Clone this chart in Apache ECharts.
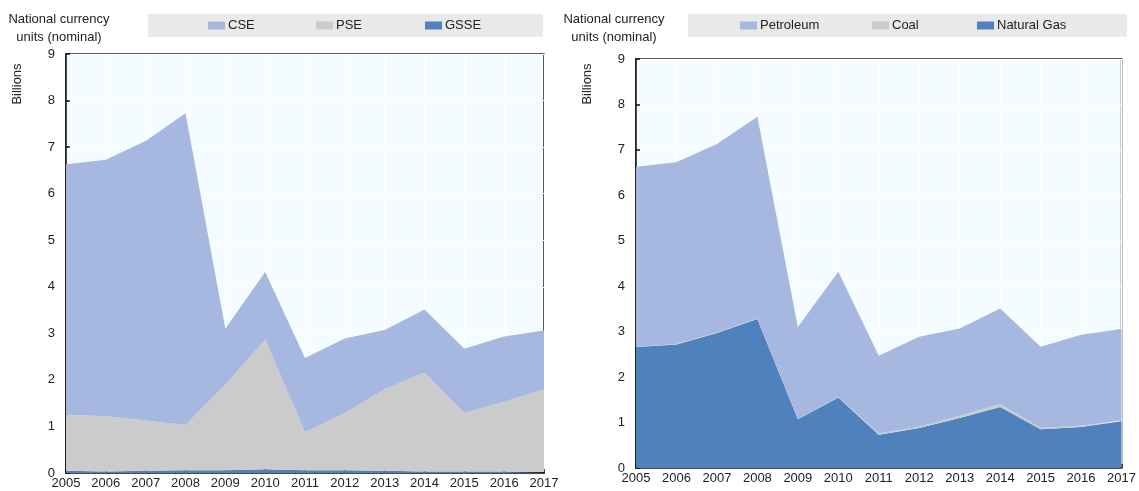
<!DOCTYPE html>
<html>
<head>
<meta charset="utf-8">
<script src="https://cdn.jsdelivr.net/npm/echarts@6/dist/echarts.min.js"></script>
<style>
  html, body { margin: 0; padding: 0; background: #ffffff; }
  #chart { width: 1139px; height: 491px; }
</style>
</head>
<body>
<div id="chart"></div>
<script>
// Years on the horizontal axes
const years = ['2005','2006','2007','2008','2009','2010','2011','2012','2013','2014','2015','2016','2017'];

// Left panel: support by category (billions)
const gsse = [0.05, 0.03, 0.05, 0.06, 0.06, 0.08, 0.06, 0.06, 0.05, 0.03, 0.03, 0.03, 0.02];
const pse  = [1.20, 1.19, 1.08, 0.97, 1.84, 2.79, 0.82, 1.23, 1.75, 2.13, 1.26, 1.50, 1.78];
const cse  = [5.38, 5.51, 6.00, 6.70, 1.20, 1.45, 1.59, 1.60, 1.27, 1.35, 1.38, 1.40, 1.26];

// Right panel: support by fuel (billions)
const naturalGas = [2.66, 2.72, 2.97, 3.28, 1.07, 1.55, 0.73, 0.88, 1.10, 1.34, 0.85, 0.90, 1.03];
const coal       = [0.01, 0.01, 0.01, 0.01, 0.01, 0.01, 0.03, 0.03, 0.05, 0.07, 0.03, 0.03, 0.02];
const petroleum  = [3.96, 4.00, 4.15, 4.44, 2.02, 2.76, 1.71, 1.98, 1.92, 2.10, 1.79, 2.00, 2.01];

// Y tick labels
const yTicks = ['0','1','2','3','4','5','6','7','8','9'];

const FONT = '"Liberation Sans", Arial, sans-serif';
const C_LIGHT = '#a6b7e0';
const C_GREY = '#cbcbcb';
const C_DARK = '#4f81bd';

const chart = echarts.init(document.getElementById('chart'), null, { renderer: 'canvas' });

function xAxisFor(gridIndex) {
  return {
    type: 'category', gridIndex: gridIndex, data: years, boundaryGap: false,
    axisLine: { show: true, lineStyle: { color: '#111', width: 1.5 } },
    axisTick: { show: true, inside: true, length: 4, lineStyle: { color: '#111', width: 1.5 } },
    axisLabel: { color: '#222', fontFamily: FONT, fontSize: 13, margin: 4, interval: 0 },
    splitLine: { show: true, lineStyle: { color: '#ffffff', width: 1 } }
  };
}
function yAxisFor(gridIndex) {
  return {
    type: 'value', gridIndex: gridIndex, min: 0, max: 9, interval: 1,
    axisLine: { show: true, lineStyle: { color: '#111', width: 1.5 } },
    axisTick: { show: true, inside: true, length: 4, lineStyle: { color: '#111', width: 1.5 } },
    axisLabel: { color: '#222', fontFamily: FONT, fontSize: 13, margin: 11,
                 formatter: v => yTicks[Math.round(v)] },
    splitLine: { show: true, lineStyle: { color: '#ffffff', width: 1 } }
  };
}
function area(name, data, color, idx, stack) {
  return {
    name: name, type: 'line', xAxisIndex: idx, yAxisIndex: idx, stack: stack,
    data: data, showSymbol: false, symbol: 'none', silent: true,
    lineStyle: { width: 0 }, itemStyle: { color: color },
    areaStyle: { color: color, opacity: 1 }
  };
}
function legendItem(name, left) {
  return {
    data: [name], left: left, top: 19, padding: 0, icon: 'rect',
    itemWidth: 17, itemHeight: 8, itemGap: 3, selectedMode: false,
    textStyle: { color: '#222', fontFamily: FONT, fontSize: 13, padding: [0, 0, 0, -2] }
  };
}

chart.setOption({
  animation: false,
  backgroundColor: '#ffffff',
  grid: [
    { left: 66, top: 54, width: 478, height: 419, show: true, backgroundColor: '#f4fcff',
      borderColor: '#222', borderWidth: 1.5, containLabel: false },
    { left: 636, top: 59, width: 489, height: 409, show: true, backgroundColor: '#f4fcff',
      borderColor: '#222', borderWidth: 1.5, containLabel: false }
  ],
  xAxis: [xAxisFor(0), xAxisFor(1)],
  yAxis: [yAxisFor(0), yAxisFor(1)],
  legend: [
    legendItem('CSE', 208), legendItem('PSE', 316), legendItem('GSSE', 425),
    legendItem('Petroleum', 740), legendItem('Coal', 872), legendItem('Natural Gas', 977)
  ],
  graphic: [
    { type: 'rect', z: -1, shape: { x: 148, y: 14, width: 395, height: 23 }, style: { fill: '#e9e9e9' } },
    { type: 'rect', z: -1, shape: { x: 688, y: 14, width: 439, height: 23 }, style: { fill: '#e9e9e9' } },
    { type: 'text', x: 59, y: 10, style: { text: 'National currency\nunits (nominal)', fill: '#222',
      font: '13px ' + FONT, textAlign: 'center', lineHeight: 18 } },
    { type: 'text', x: 614, y: 10, style: { text: 'National currency\nunits (nominal)', fill: '#222',
      font: '13px ' + FONT, textAlign: 'center', lineHeight: 18 } },
    { type: 'text', x: 17, y: 84, rotation: Math.PI / 2, style: { text: 'Billions', fill: '#222',
      font: '13px ' + FONT, textAlign: 'center', textVerticalAlign: 'middle' } },
    { type: 'text', x: 587, y: 84, rotation: Math.PI / 2, style: { text: 'Billions', fill: '#222',
      font: '13px ' + FONT, textAlign: 'center', textVerticalAlign: 'middle' } }
  ],
  series: [
    area('GSSE', gsse, C_DARK, 0, 'left'),
    area('PSE', pse, C_GREY, 0, 'left'),
    area('CSE', cse, C_LIGHT, 0, 'left'),
    area('Natural Gas', naturalGas, C_DARK, 1, 'right'),
    area('Coal', coal, C_GREY, 1, 'right'),
    area('Petroleum', petroleum, C_LIGHT, 1, 'right')
  ]
});
</script>
</body>
</html>
